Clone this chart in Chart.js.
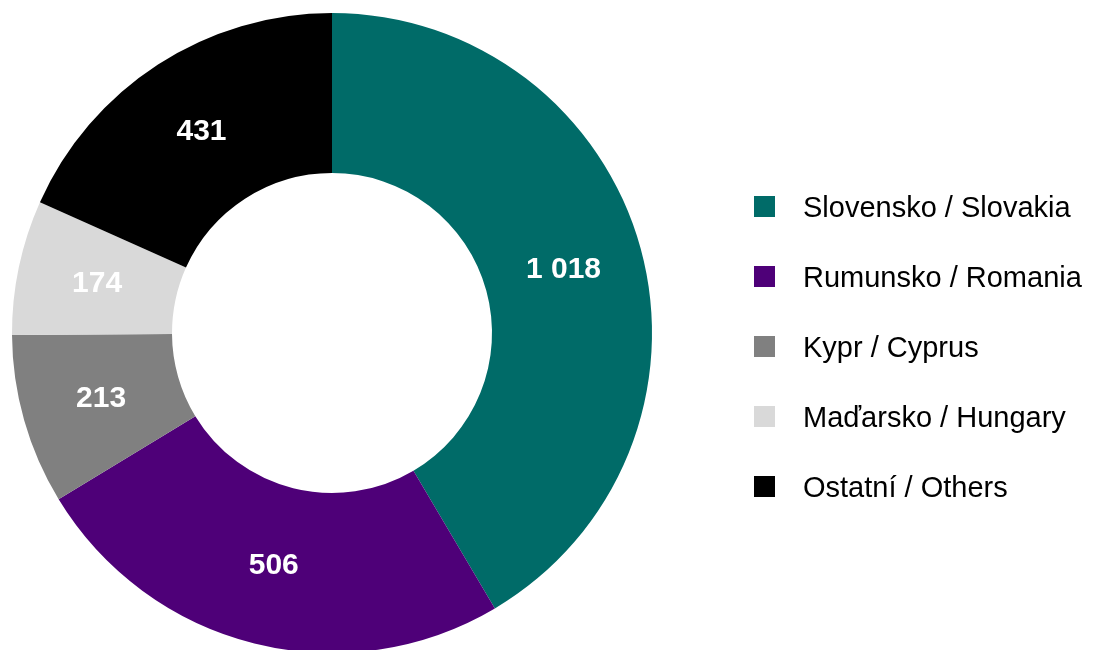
<!DOCTYPE html>
<html>
<head>
<meta charset="utf-8">
<script src="https://cdn.jsdelivr.net/npm/chart.js@4/dist/chart.umd.min.js"></script>
<style>
    body { margin: 0; overflow: hidden; background: #fff; }
    #wrap { position: absolute; left: 0; top: 0; width: 1093px; height: 680px; }
    #legend { position: absolute; left: 754px; top: 0; font-family: "Liberation Sans", Arial, sans-serif; font-size: 29px; color: #000; }
    .item { position: absolute; left: 0; height: 30px; line-height: 30px; white-space: nowrap; }
    .box { position: absolute; left: 0; top: 4px; width: 21px; height: 21px; }
    .txt { position: absolute; left: 49px; top: 0; }
</style>
</head>
<body>
<div id="wrap"><canvas id="donutChart"></canvas></div>
<div id="legend"></div>
<script>
var countries = ['Slovensko / Slovakia', 'Rumunsko / Romania', 'Kypr / Cyprus', 'Maďarsko / Hungary', 'Ostatní / Others'];
// printed labels on the slices
var valueLabels = ['1 018', '506', '213', '174', '431'];
// slice sizes as drawn in the picture (share of the ring, %)
var sliceShares = [41.5, 24.8, 8.6, 6.8, 18.3];
var colors = ['#006B68', '#4E0078', '#808080', '#D9D9D9', '#000000'];

// labels in the middle of each ring segment
var sliceLabels = {
    id: 'sliceLabels',
    afterDatasetsDraw: function (chart) {
        var ctx = chart.ctx;
        var meta = chart.getDatasetMeta(0);
        ctx.save();
        ctx.font = 'bold 30px "Liberation Sans", Arial, sans-serif';
        ctx.fillStyle = '#fff';
        ctx.textAlign = 'center';
        ctx.textBaseline = 'middle';
        meta.data.forEach(function (arc, i) {
            var p = arc.getCenterPoint();
            ctx.fillText(valueLabels[i], p.x, p.y);
        });
        ctx.restore();
    }
};

var donutChart = new Chart(document.getElementById('donutChart'), {
    type: 'doughnut',
    data: {
        labels: countries,
        datasets: [{
            data: sliceShares,
            backgroundColor: colors,
            borderWidth: 0
        }]
    },
    options: {
        responsive: true,
        maintainAspectRatio: false,
        animation: false,
        cutout: '50%',
        layout: { padding: { left: 12, right: 441, top: 13, bottom: 27 } },
        plugins: {
            legend: { display: false },
            tooltip: { enabled: false }
        }
    },
    plugins: [sliceLabels]
});

var legendHtml = '';
for (var i = 0; i < countries.length; i++) {
    legendHtml += '<div class="item" style="top:' + (192 + i * 70) + 'px"><div class="box" style="background:' + colors[i] + '"></div><div class="txt">' + countries[i] + '</div></div>';
}
document.getElementById('legend').innerHTML = legendHtml;
</script>
</body>
</html>
